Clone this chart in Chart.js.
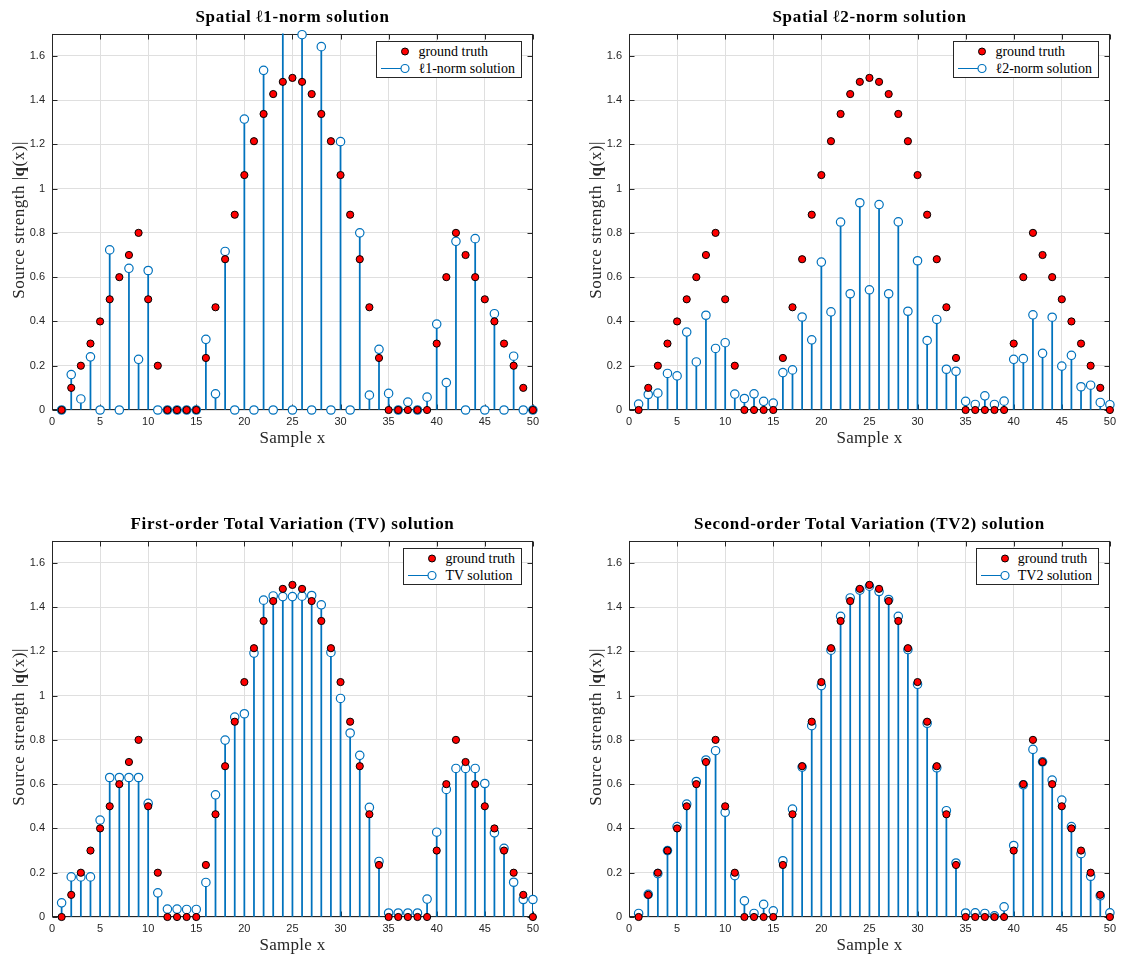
<!DOCTYPE html>
<html>
<head>
<meta charset="utf-8">
<title>Source reconstruction</title>
<script src="https://cdn.jsdelivr.net/npm/chart.js@4.4.0/dist/chart.umd.min.js"></script>
<style>
    html, body { margin: 0; padding: 0; background: #fff; overflow: hidden; }
    #figure { position: relative; width: 1121px; height: 954px; }
    #figure canvas { position: absolute; }
    .title { position: absolute; width: 481px; text-align: center; font: bold 17px 'Liberation Serif', 'Times New Roman', serif; letter-spacing: 0.7px; line-height: 20px; color: #000; }
    .xlabel { position: absolute; width: 481px; text-align: center; font: 17px 'Liberation Serif', 'Times New Roman', serif; letter-spacing: 0.3px; line-height: 20px; color: #262626; }
    .ylabel { position: absolute; width: 380px; height: 20px; text-align: center; font: 17px 'Liberation Serif', 'Times New Roman', serif; letter-spacing: 0.5px; line-height: 20px; color: #262626; transform: rotate(-90deg); }
    .legend { position: absolute; box-sizing: border-box; height: 37px; padding: 1px 6px 1px 0; border: 1px solid #262626; background: #fff; font: 14px 'Liberation Serif', 'Times New Roman', serif; color: #000; }
    .legend .row { display: flex; align-items: center; height: 17px; white-space: nowrap; }
    .legend svg { flex: none; margin-right: 4px; }
</style>
</head>
<body>
<div id="figure"></div>
<script>
// Sample positions and axis ticks
const samples = [1, 2, 3, 4, 5, 6, 7, 8, 9, 10, 11, 12, 13, 14, 15, 16, 17, 18, 19, 20, 21, 22, 23, 24, 25,
    26, 27, 28, 29, 30, 31, 32, 33, 34, 35, 36, 37, 38, 39, 40, 41, 42, 43, 44, 45, 46, 47, 48, 49, 50];
const xTicks = [0, 5, 10, 15, 20, 25, 30, 35, 40, 45, 50];
const yTicks = [0, 0.2, 0.4, 0.6, 0.8, 1, 1.2, 1.4, 1.6];

// Ground truth |q(x)|
const groundTruth = [0, 0.1, 0.2, 0.3, 0.4, 0.5, 0.6, 0.7, 0.8, 0.5, 0.2, 0, 0, 0, 0, 0.235, 0.464, 0.681, 0.882, 1.061,
    1.214, 1.337, 1.427, 1.482, 1.5, 1.482, 1.427, 1.337, 1.214, 1.061, 0.882, 0.681, 0.464, 0.235, 0, 0, 0, 0, 0, 0.3,
    0.6, 0.8, 0.7, 0.6, 0.5, 0.4, 0.3, 0.2, 0.1, 0];

// Reconstructions
const l1Solution = [0, 0.16, 0.05, 0.24, 0, 0.723, 0, 0.64, 0.229, 0.63, 0, 0, 0, 0, 0, 0.319, 0.073, 0.716, 0, 1.314,
    0, 1.534, 0, 1.9, 0, 1.695, 0, 1.641, 0, 1.212, 0, 0.8, 0.067, 0.274, 0.075, 0, 0.036, 0, 0.058, 0.388,
    0.124, 0.762, 0, 0.774, 0, 0.435, 0, 0.243, 0, 0];
const l2Solution = [0.027, 0.07, 0.076, 0.165, 0.154, 0.352, 0.217, 0.428, 0.278, 0.304, 0.072, 0.052, 0.073, 0.039, 0.031,
    0.169, 0.181, 0.42, 0.317, 0.668, 0.443, 0.849, 0.525, 0.936, 0.543, 0.928, 0.525, 0.85, 0.446, 0.674,
    0.314, 0.409, 0.184, 0.175, 0.039, 0.025, 0.064, 0.025, 0.04, 0.229, 0.232, 0.43, 0.256, 0.419, 0.198,
    0.247, 0.105, 0.112, 0.034, 0.024];
const tvSolution = [0.064, 0.181, 0.181, 0.181, 0.438, 0.63, 0.63, 0.63, 0.63, 0.513, 0.109, 0.036, 0.036, 0.034, 0.034,
    0.156, 0.552, 0.799, 0.903, 0.918, 1.192, 1.431, 1.45, 1.447, 1.447, 1.449, 1.452, 1.41, 1.195, 0.987,
    0.831, 0.73, 0.495, 0.251, 0.018, 0.018, 0.018, 0.018, 0.081, 0.383, 0.576, 0.671, 0.671, 0.671, 0.603,
    0.38, 0.31, 0.157, 0.079, 0.079];
const tv2Solution = [0.016, 0.102, 0.196, 0.3, 0.408, 0.51, 0.612, 0.709, 0.751, 0.473, 0.187, 0.073, 0.016, 0.057, 0.028,
    0.254, 0.487, 0.677, 0.864, 1.045, 1.205, 1.358, 1.441, 1.476, 1.494, 1.47, 1.434, 1.358, 1.208, 1.051,
    0.875, 0.674, 0.48, 0.244, 0.018, 0.019, 0.016, 0.005, 0.046, 0.323, 0.597, 0.757, 0.701, 0.618, 0.528,
    0.408, 0.286, 0.184, 0.096, 0.019];

// Panels: plot area top-left corner in page pixels
const panels = [
    { left: 52, top: 30, title: 'Spatial ℓ1-norm solution', name: 'ℓ1-norm solution', values: l1Solution },
    { left: 629, top: 30, title: 'Spatial ℓ2-norm solution', name: 'ℓ2-norm solution', values: l2Solution },
    { left: 52, top: 537, title: 'First-order Total Variation (TV) solution', name: 'TV solution', values: tvSolution },
    { left: 629, top: 537, title: 'Second-order Total Variation (TV2) solution', name: 'TV2 solution', values: tv2Solution }
];

const PLOT_W = 481;
const PLOT_H = 380;
const BLUE = '#0072BD';
const AXIS = '#262626';

Chart.defaults.font.family = "'Liberation Sans', Arial, Helvetica, sans-serif";
Chart.defaults.font.size = 11;
Chart.defaults.color = AXIS;

// MATLAB style box with inward ticks on all four sides
const boxPlugin = {
    id: 'matlabBox',
    beforeDatasetsDraw(chart) {
        const { ctx, chartArea: a, scales } = chart;
        const l = Math.round(a.left) + 0.5, r = Math.round(a.right) - 0.5;
        const t = Math.round(a.top) + 0.5, b = Math.round(a.bottom) - 0.5;
        ctx.save();
        ctx.strokeStyle = AXIS;
        ctx.lineWidth = 1;
        ctx.beginPath();
        xTicks.forEach(v => {
            const px = Math.round(scales.x.getPixelForValue(v)) + 0.5;
            ctx.moveTo(px, b); ctx.lineTo(px, b - 5);
            ctx.moveTo(px, t); ctx.lineTo(px, t + 5);
        });
        yTicks.forEach(v => {
            const py = Math.round(scales.y.getPixelForValue(v)) + 0.5;
            ctx.moveTo(l, py); ctx.lineTo(l + 5, py);
            ctx.moveTo(r, py); ctx.lineTo(r - 5, py);
        });
        ctx.stroke();
        ctx.strokeRect(l, t, r - l, b - t);
        ctx.restore();
    }
};

function toPoints(values) {
    return samples.map((x, i) => ({ x: x, y: values[i] }));
}

function addText(cls, html, style) {
    const el = document.createElement('div');
    el.className = cls;
    el.innerHTML = html;
    Object.assign(el.style, style);
    document.getElementById('figure').appendChild(el);
    return el;
}

function addLegend(panel) {
    const right = 1121 - (panel.left + PLOT_W - 11);
    const legend = addText('legend', '', { right: right + 'px', top: (panel.top + 11) + 'px' });
    legend.innerHTML =
        '<div class="row"><svg width="37" height="17">' +
        '<circle cx="28" cy="8.5" r="3.5" fill="#ff0000" stroke="#000" stroke-width="1"/></svg>ground truth</div>' +
        '<div class="row"><svg width="37" height="17">' +
        '<line x1="4" y1="8.5" x2="24" y2="8.5" stroke="' + BLUE + '" stroke-width="1"/>' +
        '<circle cx="28" cy="8.5" r="4" fill="#fff" stroke="' + BLUE + '" stroke-width="1.2"/></svg>' + panel.name + '</div>';
}

function drawPanel(panel) {
    const canvas = document.createElement('canvas');
    canvas.width = 52 + PLOT_W + 11;
    canvas.height = PLOT_H + 40;
    canvas.style.left = (panel.left - 52) + 'px';
    canvas.style.top = (panel.top - 10) + 'px';
    document.getElementById('figure').appendChild(canvas);

    new Chart(canvas.getContext('2d'), {
        type: 'bar',
        data: {
            datasets: [
                {
                    type: 'scatter',
                    order: 0,
                    data: toPoints(groundTruth),
                    pointRadius: 3.6,
                    pointBackgroundColor: '#ff0000',
                    pointBorderColor: '#000',
                    pointBorderWidth: 1,
                    clip: 6
                },
                {
                    type: 'scatter',
                    order: 1,
                    data: toPoints(panel.values),
                    pointRadius: 4.2,
                    pointBackgroundColor: '#fff',
                    pointBorderColor: BLUE,
                    pointBorderWidth: 1.2,
                    clip: 6
                },
                {
                    type: 'bar',
                    order: 2,
                    data: toPoints(panel.values),
                    backgroundColor: BLUE,
                    borderWidth: 0,
                    barThickness: 1.1
                }
            ]
        },
        options: {
            responsive: false,
            animation: false,
            events: [],
            layout: { padding: { left: 12, right: 11, top: 10, bottom: 10 } },
            plugins: { legend: { display: false }, tooltip: { enabled: false } },
            scales: {
                x: {
                    type: 'linear',
                    min: 0,
                    max: 50,
                    offset: false,
                    afterBuildTicks: scale => { scale.ticks = xTicks.map(v => ({ value: v })); },
                    afterFit: scale => { scale.height = 20; },
                    grid: { color: '#dfdfdf', drawTicks: false, offset: false },
                    border: { display: false },
                    ticks: { padding: 5, autoSkip: false, maxRotation: 0, callback: v => String(v) }
                },
                y: {
                    min: 0,
                    max: 1.7,
                    afterBuildTicks: scale => { scale.ticks = yTicks.map(v => ({ value: v })); },
                    afterFit: scale => { scale.width = 40; },
                    grid: { color: '#dfdfdf', drawTicks: false },
                    border: { display: false },
                    ticks: { padding: 7, callback: v => String(Math.round(v * 10) / 10) }
                }
            }
        },
        plugins: [boxPlugin]
    });

    // Text around the axes
    addText('title', panel.title, { left: panel.left + 'px', top: (panel.top - 23) + 'px' });
    addText('xlabel', 'Sample x', { left: panel.left + 'px', top: (panel.top + PLOT_H + 18) + 'px' });
    addText('ylabel', 'Source strength |<b>q</b>(x)|', {
        left: (panel.left - 33 - 190) + 'px',
        top: (panel.top + PLOT_H / 2 - 10) + 'px'
    });
    addLegend(panel);
}

panels.forEach(drawPanel);
</script>
</body>
</html>
